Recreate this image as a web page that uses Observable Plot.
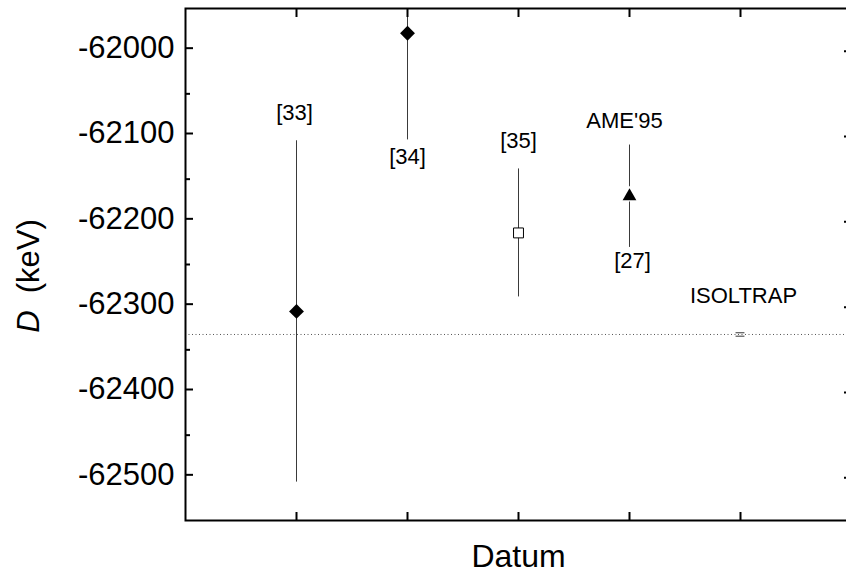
<!DOCTYPE html>
<html>
<head>
<meta charset="utf-8">
<script src="https://cdn.jsdelivr.net/npm/d3@7"></script>
<script src="https://cdn.jsdelivr.net/npm/@observablehq/plot@0.6"></script>
<style>
  html, body { margin: 0; padding: 0; background: white; overflow: hidden; }
  #chart svg { display: block; max-width: none !important; }
</style>
</head>
<body>
<div id="chart"></div>
<script>
// ---- data ----
const refs      = ["[33]", "[34]", "[35]", "AME'95", "ISOLTRAP"];
const positions = [1, 2, 3, 4, 5];
const values    = [-62305, -61979, -62213, -62170, -62332];
const errors    = [200, 125, 75, 60, 2];

const xTicks  = [1, 2, 3, 4, 5];
const yMajor  = [-62500, -62400, -62300, -62200, -62100, -62000];
const yMinor  = [-62450, -62350, -62250, -62150, -62050];

const labelText = ["[33]", "[34]", "[35]", "AME'95", "[27]", "ISOLTRAP"];
const labelOf   = [0, 1, 2, 3, 3, 4];
const labelSide = ["above", "below", "above", "above", "below", "above"];
// styling offsets (px) for annotation text
const labelDy   = [-28, 17, -28, -24, 14, -37];
const labelDx   = [-2, 0, 0, -5, 3, 3];

const rows = positions.map((x, i) => ({x, v: values[i], e: errors[i], ref: refs[i]}));
const labels = labelText.map((t, i) => {
  const r = rows[labelOf[i]];
  return {t, x: r.x, y: labelSide[i] === "above" ? r.v + r.e : r.v - r.e, dy: labelDy[i], dx: labelDx[i]};
});

const font = "'Liberation Sans', Arial, Helvetica, sans-serif";
const barStroke = "#3a3a3a";

const labelMarks = labels.map(l => Plot.text([l], {
  x: "x", y: "y", text: "t", dy: l.dy, dx: l.dx, fontSize: 22, fill: "black", textAnchor: "middle"
}));

const chart = Plot.plot({
  width: 851,
  height: 588,
  marginLeft: 185,
  marginRight: 0,
  marginTop: 8,
  marginBottom: 68,
  x: {domain: [0, 6]},
  y: {domain: [-62550, -61950]},
  style: {fontFamily: font, background: "white", color: "black"},
  marks: [
    // reference dotted line (ISOLTRAP value)
    Plot.ruleY([rows[4]], {y: "v", stroke: "#555", strokeWidth: 1, strokeDasharray: "1,2.5"}),
    // error bars
    Plot.ruleX(rows.slice(0, 4), {x: "x", y1: d => d.v - d.e, y2: d => d.v + d.e, stroke: barStroke, strokeWidth: 1, clip: true}),
    // ISOLTRAP tiny error bar caps
    Plot.ruleY([rows[4]], {y: d => d.v + d.e, x1: d => d.x - 0.04, x2: d => d.x + 0.04, stroke: "#333", strokeWidth: 1}),
    Plot.ruleY([rows[4]], {y: d => d.v - d.e, x1: d => d.x - 0.04, x2: d => d.x + 0.04, stroke: "#333", strokeWidth: 1}),
    // symbols
    Plot.dot(rows.slice(0, 2), {x: "x", y: "v", symbol: "diamond2", r: 6.7, fill: "black", stroke: "none"}),
    Plot.dot([rows[2]], {x: "x", y: "v", symbol: "square", r: 5.6, fill: "white", stroke: "black", strokeWidth: 1}),
    Plot.dot([rows[3]], {x: "x", y: "v", symbol: "triangle", r: 6.8, fill: "white", stroke: "none"}),
    Plot.dot([rows[3]], {x: "x", y: "v", symbol: "triangle", r: 5.1, fill: "black", stroke: "none"}),
    // annotations
    ...labelMarks,
    // axes: ticks pointing inward
    Plot.axisY(yMajor, {anchor: "left", tickSize: -8, tickPadding: 19, fontSize: 31, dy: -3,
      tickFormat: d => String(d), label: null, strokeWidth: 2}),
    Plot.axisY(yMajor, {anchor: "right", tickSize: -8, tickFormat: () => "", label: null, strokeWidth: 2}),
    Plot.axisY(yMinor, {anchor: "left", tickSize: -5, tickFormat: () => "", label: null, strokeWidth: 2}),
    Plot.axisY(yMinor, {anchor: "right", tickSize: -5, tickFormat: () => "", label: null, strokeWidth: 2}),
    Plot.axisX(xTicks, {anchor: "bottom", tickSize: -8, tickFormat: () => "", label: null, strokeWidth: 2}),
    Plot.axisX(xTicks, {anchor: "top", tickSize: -8, tickFormat: () => "", label: null, strokeWidth: 2}),
    Plot.frame({stroke: "black", strokeWidth: 2}),
    // x axis title
    Plot.text(["Datum"], {frameAnchor: "bottom", dy: 46, fontSize: 32, fill: "black"})
  ]
});

document.getElementById("chart").appendChild(chart);

// y axis title with italic D
const svg = d3.select(chart);
const t = svg.append("text")
  .attr("transform", "translate(39,276) rotate(-90)")
  .attr("text-anchor", "middle")
  .attr("font-family", font)
  .attr("font-size", 31)
  .attr("fill", "black");
t.append("tspan").attr("font-style", "italic").text("D");
t.append("tspan").text("\u00a0 (keV)");
</script>
</body>
</html>
